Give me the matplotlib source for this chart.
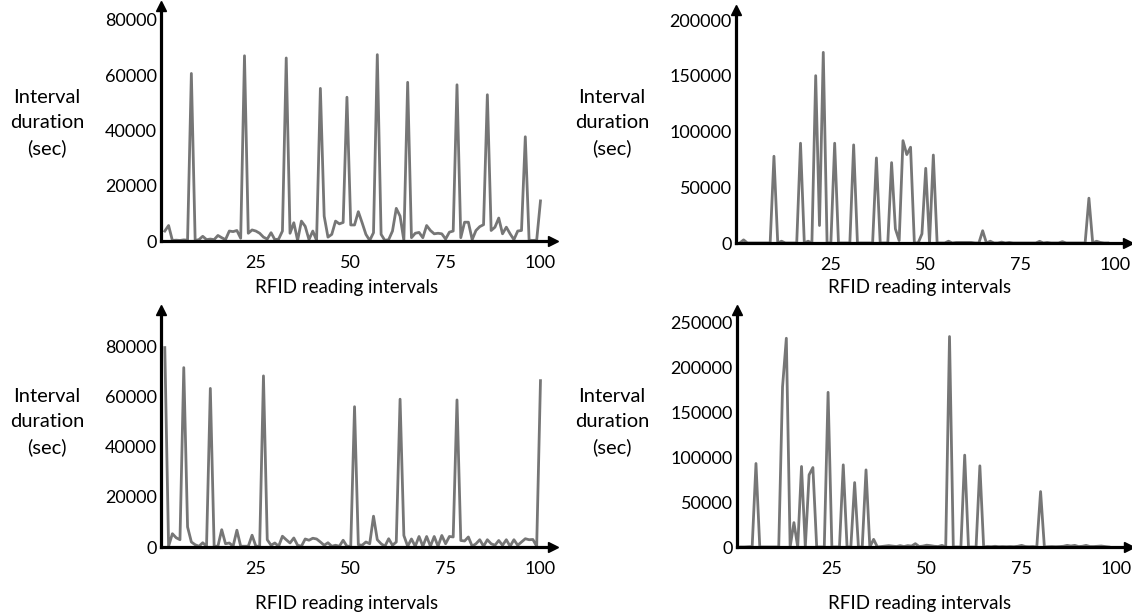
import matplotlib.pyplot as plt
import numpy as np

plt.rcParams['font.family'] = ['Lato', 'DejaVu Sans']

W, H = 1132, 615
LINE_GREY = '#767676'

x_ticks = [25, 50, 75, 100]

# interval durations (sec) for the four tags
top_left = [3600, 5600, 200, 300, 200, 400, 300, 60600, 200, 500,
            1700, 500, 700, 500, 2000, 1200, 500, 3600, 3400, 3800,
            1000, 67000, 2800, 4000, 3600, 2800, 1400, 700, 3000, 500,
            700, 3600, 66200, 2800, 6600, 200, 7200, 5300, 500, 3600,
            200, 55200, 9000, 1400, 2400, 7200, 6200, 6700, 52000, 5800,
            5800, 10600, 6600, 2400, 200, 3000, 67400, 2400, 200, 500,
            3600, 11800, 9000, 200, 57400, 1200, 2800, 3100, 1200, 5600,
            3800, 2600, 2800, 2600, 700, 3200, 3600, 56500, 1200, 6800,
            6800, 500, 3800, 5200, 5900, 52900, 3800, 5000, 8300, 2600,
            5000, 2600, 500, 3600, 3800, 37700, 300, 200, 300, 14500]

top_right = [0, 2800, 0, 0, 0, 0, 0, 0, 0, 77800,
             0, 1600, 0, 0, 0, 0, 89500, 0, 1600, 0,
             150100, 15700, 171000, 0, 0, 89500, 0, 0, 0, 0,
             88000, 0, 0, 0, 0, 0, 76300, 0, 0, 0,
             72100, 12700, 2200, 91800, 79300, 85900, 0, 0, 8200, 67000,
             0, 78900, 0, 0, 0, 1600, 0, 500, 500, 500,
             500, 500, 0, 0, 11000, 0, 1600, 0, 0, 800,
             0, 500, 0, 0, 0, 0, 0, 0, 0, 1500,
             0, 500, 0, 0, 0, 1200, 0, 0, 0, 0,
             0, 0, 40200, 0, 1600, 500, 0, 0]

bottom_left = [79600, 300, 5300, 3700, 2900, 71600, 8000, 2000, 900, 300,
               1700, 300, 63300, 300, 300, 6900, 1300, 1600, 300, 6700,
               300, 300, 300, 4700, 300, 300, 68300, 2900, 700, 1600,
               300, 4300, 2900, 1600, 3600, 700, 300, 3200, 2700, 3500,
               3200, 2000, 700, 1700, 300, 700, 300, 2700, 300, 300,
               56000, 900, 700, 2000, 1300, 12300, 2900, 1300, 300, 3300,
               700, 2000, 59000, 4600, 300, 3200, 300, 4200, 300, 4200,
               300, 4200, 300, 4600, 1300, 4200, 4000, 58700, 2600, 2400,
               4000, 300, 1300, 2900, 300, 2900, 1300, 700, 2600, 700,
               2900, 300, 2900, 700, 2000, 3300, 2900, 3000, 300, 66400]

bottom_right = [0, 0, 300, 500, 92800, 0, 0, 0, 0, 0,
                0, 178000, 232000, 0, 27100, 0, 89500, 0, 80200, 88300,
                0, 0, 0, 171900, 0, 0, 0, 91300, 0, 0,
                71600, 0, 0, 85700, 0, 8500, 0, 500, 1000, 1500,
                1000, 500, 1500, 500, 1500, 1000, 3700, 500, 1000, 2000,
                1500, 800, 500, 1800, 0, 233900, 0, 0, 0, 102100,
                0, 0, 0, 90200, 0, 500, 300, 800, 300, 500,
                300, 500, 300, 800, 1800, 500, 300, 500, 0, 61600,
                0, 300, 500, 300, 500, 800, 1800, 1100, 1800, 500,
                800, 1800, 500, 500, 800, 1100, 500, 0]

top_left_yticks = [0, 20000, 40000, 60000, 80000]
top_right_yticks = [0, 50000, 100000, 150000, 200000]
bottom_left_yticks = [0, 20000, 40000, 60000, 80000]
bottom_right_yticks = [0, 50000, 100000, 150000, 200000, 250000]


def frac(px, py):
    return px / W, 1 - py / H


def draw_panel(fig, rect, values, yticks, ymax, xmax, ylab_xy, xlab_xy):
    # rect: (left, top, right, bottom) of the axes in pixels
    l, t, r, b = rect
    ax = fig.add_axes([l / W, 1 - b / H, (r - l) / W, (b - t) / H])
    x = np.arange(1, len(values) + 1)
    ax.plot(x, values, color=LINE_GREY, lw=2.0)
    ax.set_xlim(0, xmax)
    ax.set_ylim(0, ymax)
    ax.set_xticks(x_ticks)
    ax.set_yticks(yticks)
    for side in ['top', 'right']:
        ax.spines[side].set_visible(False)
    for side in ['left', 'bottom']:
        ax.spines[side].set_linewidth(2.3)
        ax.spines[side].set_color('black')
    ax.tick_params(length=0, labelsize=13)
    ax.tick_params(axis='x', pad=10)
    ax.tick_params(axis='y', pad=3)
    # arrow heads at the axis ends
    ax.plot(1, 0, '>k', ms=7, transform=ax.get_yaxis_transform(), clip_on=False)
    ax.plot(0, 1, '^k', ms=7, transform=ax.get_xaxis_transform(), clip_on=False)
    fig.text(*frac(*ylab_xy), 'Interval\nduration\n(sec)', ha='center',
             va='center', fontsize=14.5, linespacing=1.55)
    fig.text(*frac(*xlab_xy), 'RFID reading intervals', ha='center',
             va='center', fontsize=13.5)
    return ax


fig = plt.figure(figsize=(W / 100, H / 100), dpi=100)

draw_panel(fig, (161, 6, 553, 241), top_left, top_left_yticks, 85000, 103.3,
           (47, 123), (347, 287))
draw_panel(fig, (736, 10, 1128, 243), top_right, top_right_yticks, 209000, 103.3,
           (612, 123), (920, 287))
draw_panel(fig, (161, 310, 553, 547), bottom_left, bottom_left_yticks, 94600, 103.3,
           (47, 422), (347, 604))
draw_panel(fig, (737, 310, 1129, 547), bottom_right, bottom_right_yticks, 263400, 103.3,
           (612, 422), (920, 604))

fig.savefig('out.png', dpi=100)
